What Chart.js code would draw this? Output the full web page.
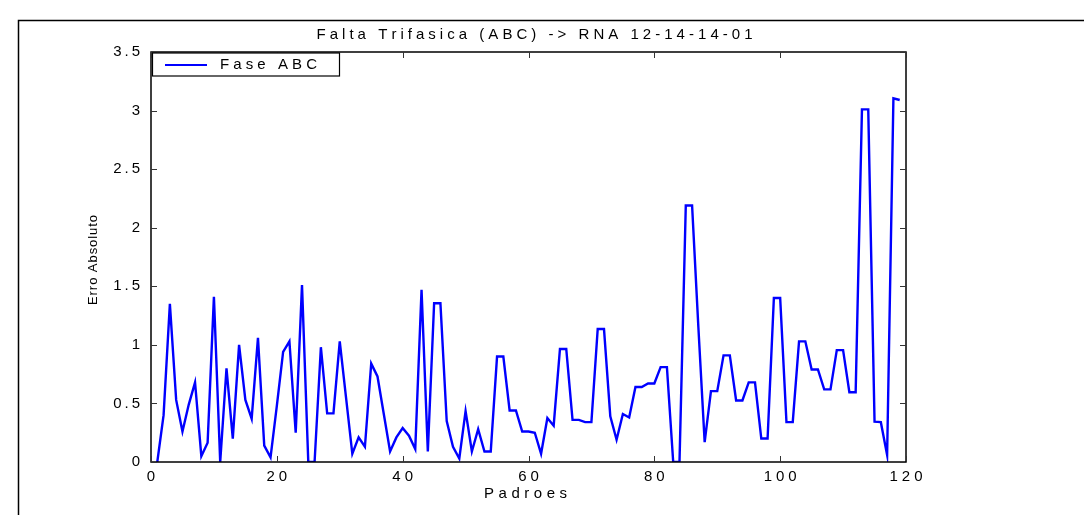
<!DOCTYPE html>
<html>
<head>
<meta charset="utf-8">
<script src="https://cdn.jsdelivr.net/npm/chart.js@4"></script>
<style>
html,body{margin:0;padding:0;background:#fff;}
#wrap{width:1084px;height:515px;position:relative;}
</style>
</head>
<body>
<div id="wrap"><canvas id="c" width="1084" height="515"></canvas></div>
<script>
// ---- data ----
const titleText = "Falta Trifasica (ABC) -> RNA 12-14-14-01";
const xLabel = "Padroes";
const yLabel = "Erro Absoluto";
const seriesName = "Fase ABC";
const xTicks = [0, 20, 40, 60, 80, 100, 120];
const yTicks = [0, 0.5, 1, 1.5, 2, 2.5, 3, 3.5];
const erroAbsoluto = [
  0, 0.40, 1.35, 0.53, 0.26, 0.49, 0.68, 0.05, 0.165, 1.41,
  0, 0.80, 0.20, 1.00, 0.53, 0.37, 1.06, 0.14, 0.04, 0.48,
  0.94, 1.03, 0.25, 1.51, 0, 0, 0.98, 0.415, 0.415, 1.03,
  0.55, 0.07, 0.21, 0.13, 0.84, 0.73, 0.41, 0.09, 0.21, 0.29,
  0.225, 0.11, 1.47, 0.09, 1.355, 1.355, 0.35, 0.13, 0.03, 0.435,
  0.09, 0.28, 0.09, 0.09, 0.90, 0.90, 0.44, 0.44, 0.26, 0.26,
  0.25, 0.07, 0.375, 0.31, 0.965, 0.965, 0.36, 0.36, 0.34, 0.34,
  1.135, 1.135, 0.39, 0.19, 0.41, 0.38, 0.64, 0.64, 0.67, 0.67,
  0.81, 0.81, 0, 0, 2.19, 2.19, 1.15, 0.17, 0.605, 0.605,
  0.91, 0.91, 0.525, 0.525, 0.68, 0.68, 0.20, 0.20, 1.40, 1.40,
  0.34, 0.34, 1.03, 1.03, 0.79, 0.79, 0.62, 0.62, 0.955, 0.955,
  0.595, 0.595, 3.01, 3.01, 0.345, 0.34, 0.06, 3.105, 3.09
];
const padroes = erroAbsoluto.map((v, i) => i + 1);

const FONT = '"Liberation Sans Narrow", "Liberation Sans", Arial, sans-serif';
const FONT_REG = '"Liberation Sans", Arial, sans-serif';

function spacedWidth(ctx, text, sp) {
  let w = 0;
  for (const ch of text) w += ctx.measureText(ch).width;
  return w + sp * (text.length - 1);
}
function drawSpaced(ctx, text, x, y, align, sp) {
  const w = spacedWidth(ctx, text, sp);
  let sx = align === 'center' ? x - w / 2 : align === 'right' ? x - w : x;
  ctx.textAlign = 'left';
  for (const ch of text) {
    ctx.fillText(ch, sx, y);
    sx += ctx.measureText(ch).width + sp;
  }
}
function fitSpacing(ctx, text, target) {
  const w0 = spacedWidth(ctx, text, 0);
  return Math.max(0, (target - w0) / (text.length - 1));
}

const decorPlugin = {
  id: 'decor',
  afterDraw(chart) {
    const ctx = chart.ctx;
    const a = chart.chartArea;
    const xs = chart.scales.x, ys = chart.scales.y;
    ctx.save();
    // outer figure frame
    ctx.strokeStyle = '#000';
    ctx.lineWidth = 1.5;
    ctx.beginPath();
    ctx.moveTo(18.5, 515);
    ctx.lineTo(18.5, 20.5);
    ctx.lineTo(1084, 20.5);
    ctx.stroke();

    // axes box
    ctx.lineWidth = 1.5;
    ctx.strokeRect(a.left, a.top, a.right - a.left, a.bottom - a.top);
    // ticks inward
    ctx.lineWidth = 1;
    ctx.strokeStyle = '#333';
    const tl = 6;
    ctx.beginPath();
    xTicks.forEach(t => {
      const px = Math.round(xs.getPixelForValue(t)) + 0.5;
      ctx.moveTo(px, a.bottom); ctx.lineTo(px, a.bottom - tl);
      ctx.moveTo(px, a.top); ctx.lineTo(px, a.top + tl);
    });
    yTicks.forEach(t => {
      const py = Math.round(ys.getPixelForValue(t)) + 0.5;
      ctx.moveTo(a.left, py); ctx.lineTo(a.left + tl, py);
      ctx.moveTo(a.right, py); ctx.lineTo(a.right - tl, py);
    });
    ctx.stroke();

    ctx.fillStyle = '#000';
    ctx.textBaseline = 'middle';
    // tick labels
    ctx.font = '15px ' + FONT;
    xTicks.forEach(t => {
      drawSpaced(ctx, String(t), xs.getPixelForValue(t), a.bottom + 15, 'center', 4);
    });
    yTicks.forEach(t => {
      drawSpaced(ctx, String(t), a.left - 11, ys.getPixelForValue(t), 'right', 3);
    });
    // title
    ctx.font = '15px ' + FONT;
    drawSpaced(ctx, titleText, (a.left + a.right) / 2 + 6, 35, 'center', fitSpacing(ctx, titleText, 436));
    // x label
    drawSpaced(ctx, xLabel, (a.left + a.right) / 2 - 3, 494, 'center', fitSpacing(ctx, xLabel, 83));
    // y label
    ctx.save();
    ctx.translate(93, (a.top + a.bottom) / 2 + 3);
    ctx.rotate(-Math.PI / 2);
    ctx.font = '13px ' + FONT_REG;
    drawSpaced(ctx, yLabel, 0, 0, 'center', fitSpacing(ctx, yLabel, 90));
    ctx.restore();

    // legend
    ctx.fillStyle = '#fff';
    ctx.fillRect(a.left + 1.5, a.top + 1, 187, 23);
    ctx.strokeStyle = '#000';
    ctx.lineWidth = 1.2;
    ctx.strokeRect(a.left + 1.5, a.top + 1, 187, 23);
    ctx.strokeStyle = '#0000ff';
    ctx.lineWidth = 2;
    ctx.beginPath();
    ctx.moveTo(a.left + 14, a.top + 13);
    ctx.lineTo(a.left + 56, a.top + 13);
    ctx.stroke();
    ctx.fillStyle = '#000';
    ctx.font = '15px ' + FONT;
    drawSpaced(ctx, seriesName, a.left + 69, a.top + 13, 'left', fitSpacing(ctx, seriesName, 97));
    ctx.restore();
  }
};

new Chart(document.getElementById('c'), {
  type: 'line',
  data: {
    datasets: [{
      label: seriesName,
      data: padroes.map((x, i) => ({ x: x, y: erroAbsoluto[i] })),
      borderColor: '#0000ff',
      borderWidth: 2.4,
      pointRadius: 0,
      tension: 0,
      fill: false
    }]
  },
  options: {
    responsive: false,
    animation: false,
    devicePixelRatio: 1,
    layout: { padding: { left: 151, right: 178, top: 52, bottom: 53 } },
    scales: {
      x: { type: 'linear', min: 0, max: 120, display: false },
      y: { type: 'linear', min: 0, max: 3.5, display: false }
    },
    plugins: {
      legend: { display: false },
      title: { display: false },
      tooltip: { enabled: false }
    }
  },
  plugins: [decorPlugin]
});
</script>
</body>
</html>
